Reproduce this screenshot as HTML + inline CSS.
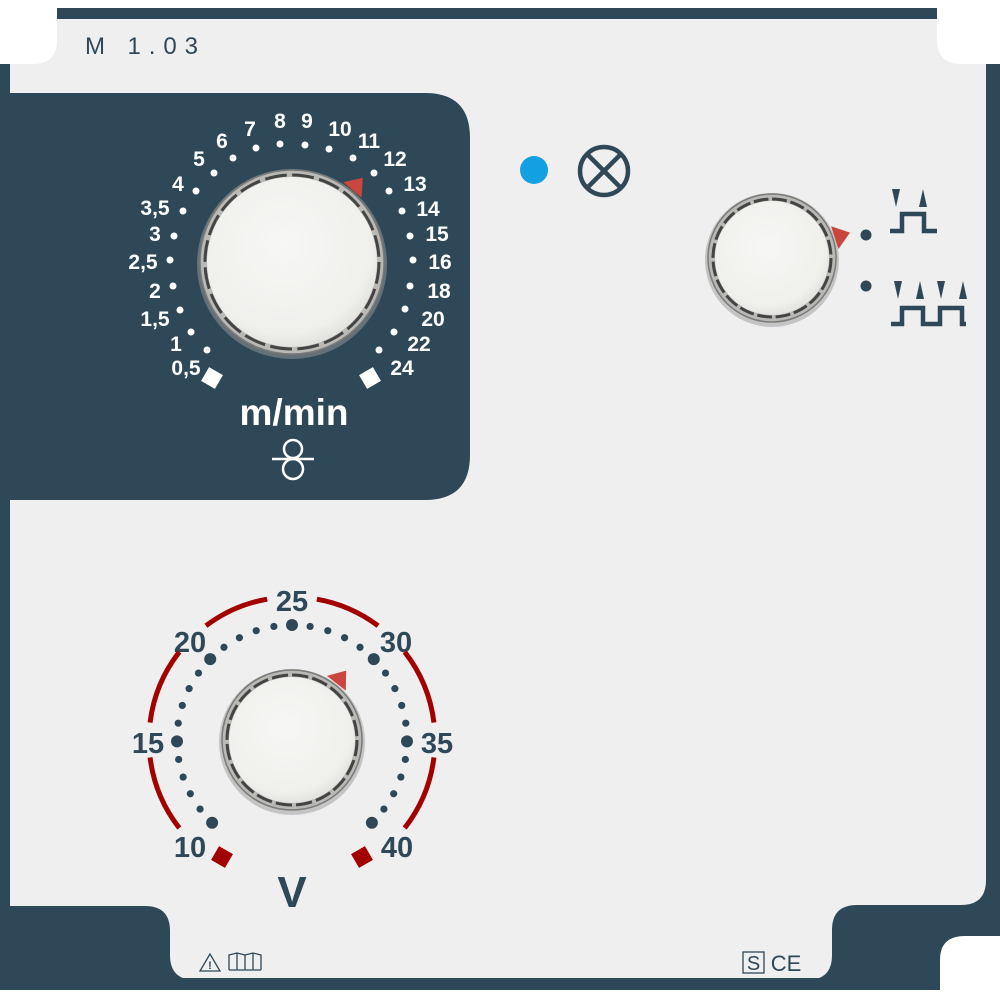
<!DOCTYPE html>
<html><head><meta charset="utf-8"><style>
html,body{margin:0;padding:0;background:#fff;}
svg{display:block}
text{font-family:"Liberation Sans",sans-serif;}
</style></head><body>
<svg id="s" width="1000" height="1000" viewBox="0 0 1000 1000" xmlns="http://www.w3.org/2000/svg">
<defs>
<radialGradient id="kg" cx="45%" cy="40%" r="65%">
<stop offset="0" stop-color="#f7f7f5"/><stop offset="0.8" stop-color="#efefec"/><stop offset="1" stop-color="#dcdcd8"/>
</radialGradient>
</defs>
<rect width="1000" height="1000" fill="#fff"/>
<rect x="57" y="8" width="880" height="12" fill="#2f4858"/>
<rect x="0" y="64" width="1000" height="926" fill="#2f4858"/>
<rect x="10" y="19" width="976" height="961" fill="#efeff0"/>
<path d="M0 0 H57 V40 Q57 64 33 64 H0Z" fill="#fff"/>
<path d="M937 0 H1000 V64 H961 Q937 64 937 40Z" fill="#fff"/>
<path d="M0 906 H145 Q170 906 170 931 V955 Q170 980 195 980 V990 H0Z" fill="#2f4858"/>
<path d="M986 880 Q986 905 961 905 H857 Q832 905 832 930 V955 Q832 980 807 980 V990 H1000 V880Z" fill="#2f4858"/>
<rect x="0" y="978" width="1000" height="12" fill="#2f4858"/>
<path d="M965 936 H1000 V1000 H940 V960 Q940 936 965 936Z" fill="#fff"/>
<rect x="0" y="990" width="1000" height="10" fill="#fff"/>
<path d="M10 93 H425 Q470 93 470 138 V455 Q470 500 425 500 H10Z" fill="#2f4858"/>
<text x="85" y="54" font-size="24" fill="#2f4858" textLength="113" lengthAdjust="spacing">M 1.03</text>

<g fill="#fff" font-weight="bold" font-size="21" text-anchor="middle">
<text x="186" y="375">0,5</text><text x="176" y="351">1</text><text x="155" y="326">1,5</text>
<text x="155" y="298">2</text><text x="143" y="269">2,5</text><text x="155" y="241">3</text>
<text x="155" y="215">3,5</text><text x="178" y="191">4</text><text x="199" y="166">5</text>
<text x="222" y="148">6</text><text x="250" y="136">7</text><text x="280" y="128">8</text>
<text x="307" y="128">9</text><text x="340" y="136">10</text><text x="369" y="148">11</text>
<text x="395" y="166">12</text><text x="415" y="191">13</text><text x="428" y="216">14</text>
<text x="437" y="241">15</text><text x="440" y="269">16</text><text x="439" y="298">18</text>
<text x="433" y="326">20</text><text x="419" y="351">22</text><text x="402" y="375">24</text>
</g>
<g fill="#fff">
<circle cx="207" cy="350" r="3.5"/><circle cx="191" cy="332" r="3.5"/><circle cx="180" cy="310" r="3.5"/>
<circle cx="173" cy="286" r="3.5"/><circle cx="170" cy="260" r="3.5"/><circle cx="174" cy="236" r="3.5"/>
<circle cx="183" cy="211" r="3.5"/><circle cx="196" cy="191" r="3.5"/><circle cx="214" cy="173" r="3.5"/>
<circle cx="233" cy="158" r="3.5"/><circle cx="256" cy="148" r="3.5"/><circle cx="280" cy="144" r="3.5"/>
<circle cx="305" cy="145" r="3.5"/><circle cx="329" cy="149" r="3.5"/><circle cx="353" cy="158" r="3.5"/>
<circle cx="374" cy="173" r="3.5"/><circle cx="389" cy="191" r="3.5"/><circle cx="402" cy="211" r="3.5"/>
<circle cx="410" cy="236" r="3.5"/><circle cx="413" cy="260" r="3.5"/><circle cx="410" cy="286" r="3.5"/>
<circle cx="405" cy="309" r="3.5"/><circle cx="394" cy="332" r="3.5"/><circle cx="379" cy="350" r="3.5"/>
<rect x="204" y="370" width="16" height="16" transform="rotate(30 212 378)"/>
<rect x="362" y="370" width="16" height="16" transform="rotate(-30 370 378)"/>
</g>
<text x="294" y="425" fill="#fff" font-weight="bold" font-size="37" text-anchor="middle">m/min</text>
<g stroke="#fff" stroke-width="2.5" fill="none">
<circle cx="293" cy="449" r="9"/><circle cx="293" cy="469" r="10"/>
<line x1="272" y1="459" x2="314" y2="459"/>
</g>

<circle cx="534" cy="170" r="14" fill="#12a0e3"/>
<g stroke="#2f4858" stroke-width="4.5" fill="none">
<circle cx="604" cy="171" r="24"/>
<line x1="587" y1="154" x2="621" y2="188"/><line x1="621" y1="154" x2="587" y2="188"/>
</g>

<circle cx="866" cy="235" r="5.5" fill="#2f4858"/>
<circle cx="866" cy="286" r="5.5" fill="#2f4858"/>
<g fill="#2f4858">
<polygon points="892,189 900,189 896,207"/><polygon points="919,207 927,207 923,189"/>
<polygon points="894,281 902,281 898,299"/><polygon points="916,299 924,299 920,281"/>
<polygon points="937,281 945,281 941,299"/><polygon points="959,299 967,299 963,281"/>
</g>
<g stroke="#2f4858" stroke-width="4.5" fill="none">
<polyline points="890,231 902,231 902,214 924,214 924,231 937,231"/>
<polyline points="891,324 902,324 902,308 923,308 923,324 940,324 940,308 962,308 962,324 966,324"/>
</g>

<g fill="#2f4858" font-weight="bold" font-size="29" text-anchor="middle">
<text x="292" y="611">25</text><text x="190" y="652">20</text><text x="396" y="652">30</text>
<text x="148" y="753">15</text><text x="437" y="753">35</text><text x="190" y="857">10</text><text x="397" y="857">40</text>
<text x="292" y="907" font-size="44">V</text>
</g>
<g id="sc"></g>
<rect x="214" y="849" width="16" height="16" fill="#a30000" transform="rotate(30 222 857)"/>
<rect x="354" y="849" width="16" height="16" fill="#a30000" transform="rotate(-30 362 857)"/>

<g stroke="#2f4858" stroke-width="1.3" fill="none">
<polygon points="210,954 200,971 220,971"/>
<polyline points="229,970 229,955 237,953 245,955 253,953 261,955 261,970"/>
<line x1="237" y1="953" x2="237" y2="970"/><line x1="245" y1="955" x2="245" y2="970"/><line x1="253" y1="953" x2="253" y2="970"/>
<line x1="229" y1="970" x2="261" y2="970"/>
<rect x="743" y="952" width="21" height="21"/>
</g>
<text x="210" y="969" font-size="11" font-weight="bold" fill="#2f4858" text-anchor="middle">!</text>
<text x="753.5" y="970" font-size="20" fill="#2f4858" text-anchor="middle">S</text>
<text x="786" y="971" font-size="22" fill="#2f4858" text-anchor="middle">CE</text>
</svg>
<script>
var NS="http://www.w3.org/2000/svg";
function el(p,t,a){var e=document.createElementNS(NS,t);for(var k in a)e.setAttribute(k,a[k]);p.appendChild(e);return e;}
var s=document.getElementById('s');
function knob(cx,cy,r,ptr){
 var g=el(s,'g',{});
 el(g,'circle',{cx:cx,cy:cy+2,r:r+3,fill:'#9a9a98',opacity:0.5});
 el(g,'circle',{cx:cx,cy:cy,r:r,fill:'#b9b9b6',stroke:'#7a7a78','stroke-width':1.5});
 var C=2*Math.PI*(r-5);
 el(g,'circle',{cx:cx,cy:cy,r:r-5,fill:'none',stroke:'#444','stroke-width':3,'stroke-dasharray':(C/20*0.8)+' '+(C/20*0.2)});
 el(g,'circle',{cx:cx,cy:cy,r:r-7,fill:'url(#kg)'});
 var a=ptr*Math.PI/180,px=cx+Math.sin(a)*(r+2),py=cy-Math.cos(a)*(r+2);
 var tx=cx+Math.sin(a)*(r+18),ty=cy-Math.cos(a)*(r+18);
 var nx=Math.cos(a)*12,ny=Math.sin(a)*12;
 el(g,'polygon',{points:(px-nx)+','+(py-ny)+' '+(px+nx)+','+(py+ny)+' '+tx+','+ty,fill:'#c9473c'});
}
knob(292,262,92,40);
knob(772,258,64,72);
knob(292,740,70,38);
var sc=document.getElementById('sc');
for(var i=0;i<=30;i++){
 var ang=(-136+i*272/30)*Math.PI/180;
 var big=i%5==0;
 el(sc,'circle',{cx:292+Math.sin(ang)*115,cy:740-Math.cos(ang)*115,r:big?6:3.6,fill:'#2f4858'});
}
var segs=[[10,37],[52,83],[97,128]];
segs.forEach(function(g){[1,-1].forEach(function(sg){
 var a1=sg*g[0]*Math.PI/180,a2=sg*g[1]*Math.PI/180,R=143;
 var x1=292+Math.sin(a1)*R,y1=740-Math.cos(a1)*R,x2=292+Math.sin(a2)*R,y2=740-Math.cos(a2)*R;
 el(sc,'path',{d:'M'+x1+' '+y1+' A'+R+' '+R+' 0 0 '+(sg>0?1:0)+' '+x2+' '+y2,stroke:'#a30000','stroke-width':5,fill:'none'});
});});
</script>
</body></html>
